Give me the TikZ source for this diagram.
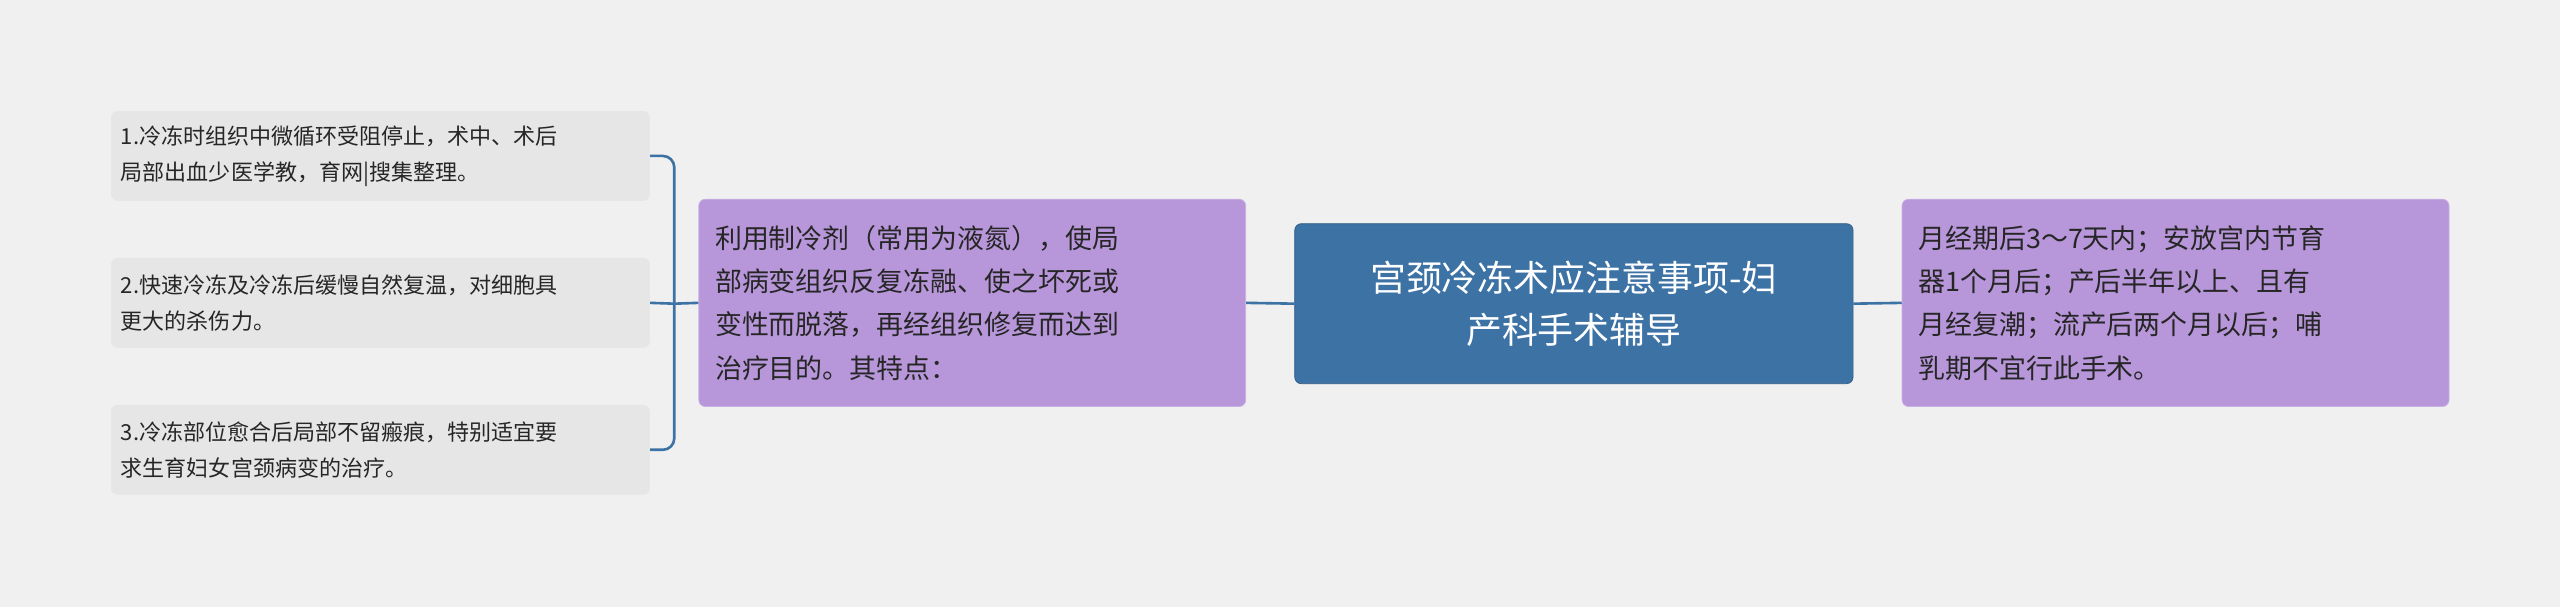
\documentclass[tikz,border=0pt]{standalone}
\usepackage{fontspec}
\setmainfont{Noto Sans CJK SC}
\definecolor{bg}{HTML}{F0F0F0}
\definecolor{ctr}{HTML}{3D72A5}
\definecolor{pur}{HTML}{B797DA}
\definecolor{purb}{HTML}{C9B0E6}
\definecolor{leaf}{HTML}{E6E6E6}
\definecolor{ln}{HTML}{3D72A5}
\begin{document}
\begin{tikzpicture}[x=1pt,y=-1pt,
  ctrbox/.style={fill=ctr,draw=ctr!80!black,rounded corners=4pt,minimum width=342pt,minimum height=98pt,text=white,font=\fontsize{22}{32}\selectfont,align=center},
  purbox/.style={fill=pur,draw=purb,rounded corners=4pt,minimum width=335pt,minimum height=127pt,text=black!85,font=\fontsize{16.5}{26.5}\selectfont,align=left,text width=315pt},
  leafbox/.style={fill=leaf,rounded corners=4pt,minimum width=330pt,minimum height=55pt,text=black!85,font=\fontsize{13.5}{22}\selectfont,align=left,text width=318pt},
  conn/.style={draw=ln,line width=1.6pt}]
\fill[bg] (0,0) rectangle (1568,372);
\useasboundingbox (0,0) rectangle (1568,372);
\node[ctrbox] (c) at (964,186) {宫颈冷冻术应注意事项-妇\\产科手术辅导};
\node[purbox] (r) at (1332.5,185.5) {月经期后3～7天内；安放宫内节育\\器1个月后；产后半年以上、且有\\月经复潮；流产后两个月以后；哺\\乳期不宜行此手术。};
\node[purbox] (m) at (595.5,185.5) {利用制冷剂（常用为液氮），使局\\部病变组织反复冻融、使之坏死或\\变性而脱落，再经组织修复而达到\\治疗目的。其特点：};
\node[leafbox] (l1) at (233,95.5) {1.冷冻时组织中微循环受阻停止，术中、术后\\局部出血少医学教，育网|搜集整理。};
\node[leafbox] (l2) at (233,185.5) {2.快速冷冻及冷冻后缓慢自然复温，对细胞具\\更大的杀伤力。};
\node[leafbox] (l3) at (233,275.5) {3.冷冻部位愈合后局部不留瘢痕，特别适宜要\\求生育妇女宫颈病变的治疗。};
\draw[conn] (c.east) -- (r.west);
\draw[conn] (c.west) -- (m.west -| m.east);
\coordinate (b) at (413,186);
\draw[conn] (m.west) -- (b);
\draw[conn,rounded corners=7pt] (l1.east) -- (413,95.5) -- (413,275.5) -- (l3.east);
\draw[conn] (l2.east) -- (b);
\end{tikzpicture}
\end{document}
